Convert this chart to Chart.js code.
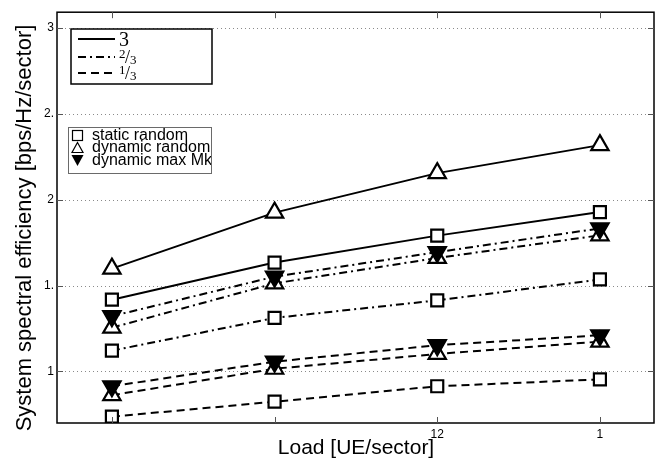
<!DOCTYPE html>
<html lang="en">
<head>
  <meta charset="UTF-8" />
  <title>System spectral efficiency vs load</title>
  <script src="https://cdn.jsdelivr.net/npm/chart.js"></script>
  <style>
    body { margin: 0; background: #fff; }
    #wrap { width: 671px; height: 466px; }
  </style>
</head>
<body>
  <div id="wrap"><canvas id="chart" width="671" height="466"></canvas></div>

  <script>
    // load points (UE/sector) and axis ticks
    const loads = [4, 8, 12, 16];
    const xTicks = [4, 8, 12, 16];
    const xTickLabels = ['', '', '12', '1'];
    const yTicks = [1, 1.5, 2, 2.5, 3];
    const yTickLabels = ['1', '1.', '2', '2.', '3'];

    // reuse factor 3
    const static3 = [1.418, 1.634, 1.791, 1.928];
    const dynRandom3 = [1.599, 1.925, 2.155, 2.318];
    // reuse factor 2/3
    const static23 = [1.121, 1.312, 1.414, 1.536];
    const dynRandom23 = [1.255, 1.513, 1.661, 1.793];
    const dynMax23 = [1.322, 1.552, 1.695, 1.833];
    // reuse factor 1/3
    const static13 = [0.737, 0.824, 0.914, 0.954];
    const dynRandom13 = [0.862, 1.016, 1.102, 1.174];
    const dynMax13 = [0.914, 1.057, 1.153, 1.211];

    const SOLID = [];
    const DASHDOT = [8, 4, 2, 4];
    const DASHED = [8, 5];

    function pts(vals) {
      return vals.map((v, i) => ({ x: loads[i], y: v }));
    }

    function series(label, vals, dash, marker) {
      const base = {
        label,
        data: pts(vals),
        borderColor: '#000',
        borderWidth: 2,
        borderDash: dash,
        tension: 0,
        fill: false,
        pointBorderColor: '#000',
        pointBorderWidth: 2.2,
        pointHoverRadius: 0
      };
      if (marker === 'square') {
        return Object.assign(base, { pointStyle: 'rect', pointRadius: 8.5, pointBackgroundColor: '#fff' });
      }
      if (marker === 'up') {
        return Object.assign(base, { pointStyle: 'triangle', pointRadius: 10, pointBackgroundColor: '#fff' });
      }
      return Object.assign(base, { pointStyle: 'triangle', pointRotation: 180, pointRadius: 10, pointBackgroundColor: '#000' });
    }

    const FONT = '"Liberation Sans", Arial, Helvetica, sans-serif';
    const SERIF = '"Liberation Serif", "DejaVu Serif", serif';

    // gridlines behind the data
    const gridPlugin = {
      id: 'gridPlugin',
      beforeDatasetsDraw(chart) {
        const { ctx, chartArea: a, scales: { y } } = chart;
        ctx.save();
        ctx.strokeStyle = '#8a8a8a';
        ctx.lineWidth = 1;
        ctx.setLineDash([1, 3]);
        yTicks.forEach(v => {
          const py = Math.round(y.getPixelForValue(v)) + 0.5;
          ctx.beginPath();
          ctx.moveTo(a.left, py);
          ctx.lineTo(a.right, py);
          ctx.stroke();
        });
        ctx.restore();
      }
    };

    // frame, inner ticks, legends and axis titles
    const decorPlugin = {
      id: 'decorPlugin',
      afterDatasetsDraw(chart) {
        const { ctx, chartArea: a, scales: { x, y } } = chart;
        ctx.save();
        ctx.strokeStyle = '#000';
        ctx.lineWidth = 1.5;
        ctx.setLineDash([]);
        ctx.strokeRect(a.left, a.top, a.right - a.left, a.bottom - a.top);

        ctx.lineWidth = 1;
        ctx.strokeStyle = '#555';
        xTicks.forEach(v => {
          const px = Math.round(x.getPixelForValue(v)) + 0.5;
          ctx.beginPath();
          ctx.moveTo(px, a.bottom); ctx.lineTo(px, a.bottom - 6);
          ctx.moveTo(px, a.top); ctx.lineTo(px, a.top + 6);
          ctx.stroke();
        });
        yTicks.forEach(v => {
          const py = Math.round(y.getPixelForValue(v)) + 0.5;
          ctx.beginPath();
          ctx.moveTo(a.left, py); ctx.lineTo(a.left + 6, py);
          ctx.moveTo(a.right, py); ctx.lineTo(a.right - 6, py);
          ctx.stroke();
        });

        // line style legend
        ctx.fillStyle = '#fff';
        ctx.fillRect(71, 29, 141, 55);
        ctx.strokeStyle = '#000';
        ctx.lineWidth = 1.5;
        ctx.strokeRect(71, 29, 141, 55);
        const rows = [[39, SOLID], [57, DASHDOT], [73, DASHED]];
        ctx.lineWidth = 2;
        rows.forEach(([py, dash]) => {
          ctx.setLineDash(dash);
          ctx.beginPath();
          ctx.moveTo(78, py); ctx.lineTo(115, py);
          ctx.stroke();
        });
        ctx.setLineDash([]);
        ctx.fillStyle = '#000';
        ctx.textBaseline = 'alphabetic';
        ctx.textAlign = 'left';
        ctx.font = '20px ' + SERIF;
        ctx.fillText('3', 119, 46);
        [['2', 50], ['1', 66]].forEach(([num, top]) => {
          ctx.font = '13px ' + SERIF;
          ctx.fillText(num, 119, top + 8);
          ctx.font = '18px ' + SERIF;
          ctx.fillText('/', 125, top + 13);
          ctx.font = '13px ' + SERIF;
          ctx.fillText('3', 130, top + 14);
        });

        // marker legend
        ctx.fillStyle = '#fff';
        ctx.fillRect(68, 127, 143, 46);
        ctx.strokeStyle = '#6a6a6a';
        ctx.lineWidth = 1;
        ctx.strokeRect(68.5, 127.5, 143, 46);
        ctx.save();
        ctx.beginPath();
        ctx.rect(68.5, 127.5, 142.5, 46);
        ctx.clip();
        ctx.strokeStyle = '#000';
        ctx.lineWidth = 1.2;
        ctx.strokeRect(72.5, 130.5, 10, 10);
        ctx.beginPath();
        ctx.moveTo(77.5, 142.5); ctx.lineTo(83, 152.5); ctx.lineTo(72, 152.5); ctx.closePath();
        ctx.stroke();
        ctx.fillStyle = '#000';
        ctx.beginPath();
        ctx.moveTo(71.5, 155); ctx.lineTo(83.5, 155); ctx.lineTo(77.5, 166); ctx.closePath();
        ctx.fill();
        ctx.font = '16px ' + FONT;
        ctx.textBaseline = 'middle';
        ctx.fillText('static random', 92, 135.5);
        ctx.fillText('dynamic random', 92, 148);
        ctx.fillText('dynamic max Mk', 92, 160.5);
        ctx.restore();

        // axis titles
        ctx.fillStyle = '#000';
        ctx.textAlign = 'center';
        ctx.textBaseline = 'middle';
        ctx.font = '21px ' + FONT;
        ctx.fillText('Load [UE/sector]', 356, 448);
        ctx.font = '22px ' + FONT;
        ctx.translate(25, 228);
        ctx.rotate(-Math.PI / 2);
        ctx.fillText('System spectral efficiency [bps/Hz/sector]', 0, 0);
        ctx.restore();
      }
    };

    new Chart(document.getElementById('chart'), {
      type: 'line',
      data: {
        datasets: [
          series('3 static random', static3, SOLID, 'square'),
          series('3 dynamic random', dynRandom3, SOLID, 'up'),
          series('2/3 static random', static23, DASHDOT, 'square'),
          series('2/3 dynamic max Mk', dynMax23, DASHDOT, 'down'),
          series('2/3 dynamic random', dynRandom23, DASHDOT, 'up'),
          series('1/3 static random', static13, DASHED, 'square'),
          series('1/3 dynamic max Mk', dynMax13, DASHED, 'down'),
          series('1/3 dynamic random', dynRandom13, DASHED, 'up')
        ]
      },
      options: {
        responsive: false,
        animation: false,
        devicePixelRatio: 1,
        layout: { padding: { left: 0, top: 7, right: 17, bottom: 0 } },
        plugins: { legend: { display: false }, tooltip: { enabled: false } },
        scales: {
          x: {
            type: 'linear',
            min: 2.65,
            max: 17.33,
            afterFit: s => { s.height = 43; },
            afterBuildTicks: s => { s.ticks = xTicks.map(v => ({ value: v })); },
            grid: { display: false, drawTicks: false },
            border: { display: false },
            ticks: {
              padding: 4,
              color: '#000',
              font: { family: FONT, size: 12 },
              maxRotation: 0,
              autoSkip: false,
              callback: v => xTickLabels[xTicks.indexOf(v)] ?? ''
            }
          },
          y: {
            type: 'linear',
            min: 0.70,
            max: 3.092,
            afterFit: s => { s.width = 57; },
            afterBuildTicks: s => { s.ticks = yTicks.map(v => ({ value: v })); },
            grid: { display: false, drawTicks: false },
            border: { display: false },
            ticks: {
              padding: 3,
              color: '#000',
              font: { family: FONT, size: 12 },
              autoSkip: false,
              callback: v => yTickLabels[yTicks.indexOf(v)] ?? ''
            }
          }
        }
      },
      plugins: [gridPlugin, decorPlugin]
    });
  </script>
</body>
</html>
